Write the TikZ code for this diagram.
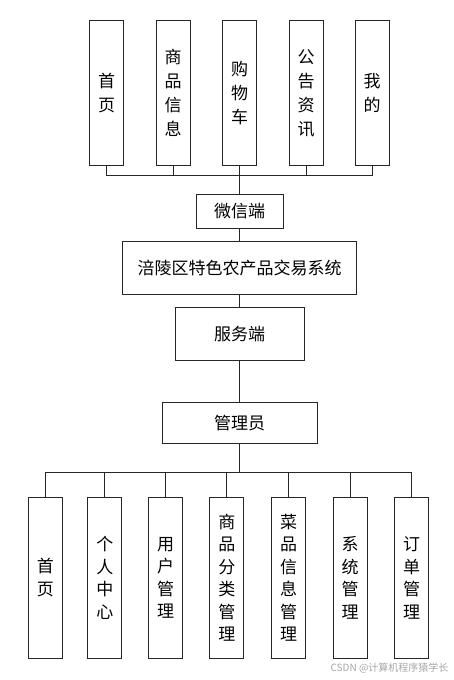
\documentclass[tikz,border=0pt]{standalone}
\usepackage{fontspec}
\newfontfamily\cjk{Noto Sans CJK SC}
\usetikzlibrary{positioning}

\begin{document}
\begin{tikzpicture}[x=1pt,y=-1pt,
    box/.style={draw=black!85, line width=0.8pt, fill=white, inner sep=0pt,
        font=\cjk\fontsize{17}{20}\selectfont},
    topbox/.style={box, minimum width=34pt, minimum height=145pt, align=center,
        font=\cjk\fontsize{17}{24}\selectfont},
    lowbox/.style={box, minimum width=34pt, minimum height=161pt, align=center,
        font=\cjk\fontsize{17}{22.5}\selectfont},
    link/.style={draw=black!85, line width=0.8pt}]
\useasboundingbox (0,0) rectangle (454,680);
% Module oben (Client)
\foreach \x/\txt [count=\i] in {106.5/首\\页, 173/商\\品\\信\\息, 239.5/购\\物\\车,
        306/公\\告\\资\\讯, 372/我\\的} {
    \node[topbox] (t\i) at (\x,93.2) {\txt};
}
% Mittelteil
\node[box, minimum width=87pt, minimum height=34pt] (wx) at (239.7,211.3) {微信端};
\node[box, minimum width=234pt, minimum height=53pt] (sys) at (239.7,267.7) {涪陵区特色农产品交易系统};
\node[box, minimum width=129pt, minimum height=53pt] (srv) at (239.7,334.3) {服务端};
\node[box, minimum width=155pt, minimum height=41pt] (adm) at (239.7,422.8) {管理员};
% Module unten (Verwaltung)
\foreach \x/\txt [count=\i] in {45.3/首\\页, 104.8/个\\人\\中\\心, 165.5/用\\户\\管\\理,
        226.8/商\\品\\分\\类\\管\\理, 288.5/菜\\品\\信\\息\\管\\理, 350/系\\统\\管\\理,
        411.5/订\\单\\管\\理} {
    \node[lowbox] (b\i) at (\x,577.7) {\txt};
}
% Sammelleitungen
\coordinate (topbus) at (239.7,175.7);
\coordinate (lowbus) at (239.7,472.7);
\foreach \i in {1,...,5} {
    \draw[link] (t\i.south) -- (t\i.south |- topbus);
}
\draw[link] (t1.south |- topbus) -- (t5.south |- topbus);
\draw[link] (wx.north) -- (topbus);
\draw[link] (wx) -- (sys);
\draw[link] (sys) -- (srv);
\draw[link] (srv) -- (adm);
\draw[link] (adm.south) -- (lowbus);
\foreach \i in {1,...,7} {
    \draw[link] (b\i.north) -- (b\i.north |- lowbus);
}
\draw[link] (b1.north |- lowbus) -- (b7.north |- lowbus);
% Wasserzeichen
\node[text=black!35, font=\cjk\fontsize{10}{10}\selectfont, anchor=east] (wm) at (452,668) {CSDN @计算机程序猿学长};
\end{tikzpicture}
\end{document}
